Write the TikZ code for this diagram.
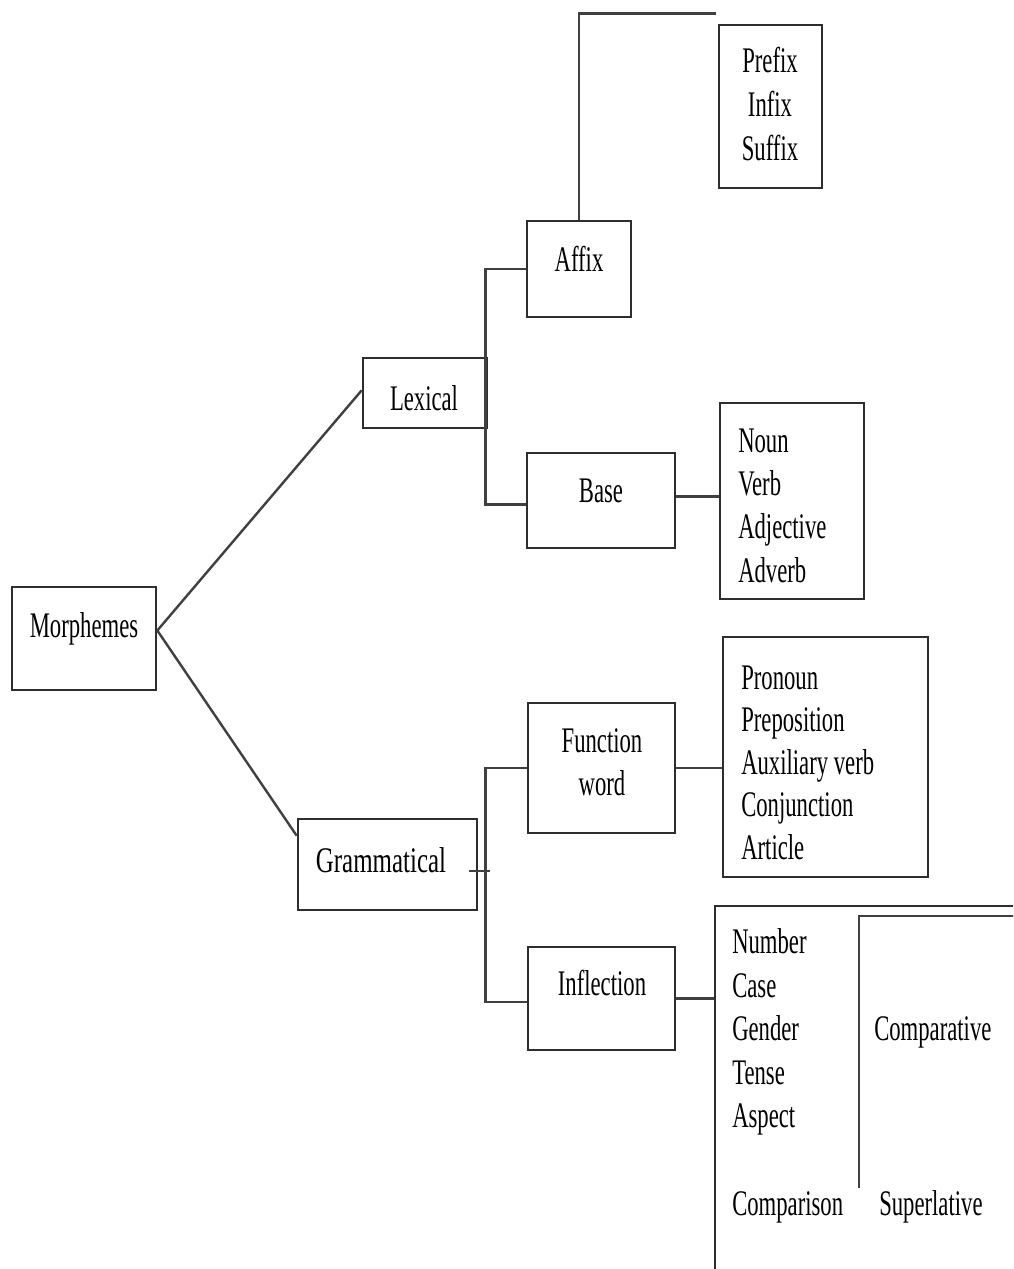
\documentclass[tikz,border=0pt]{standalone}
\usepackage{fontspec}
\usepackage{graphicx}
\setmainfont{Liberation Serif}[FakeStretch=0.63]
\usetikzlibrary{fit,calc}
\tikzset{
  box/.style={draw=black!82, line width=2pt, inner sep=0pt},
  conn/.style={draw=black!75, line width=1.8pt},
  lbl/.style={font=\fontsize{27pt}{33pt}\selectfont, inner sep=0pt, text=black, anchor=base},
  lbll/.style={lbl, anchor=base west}
}
\begin{document}
\begin{tikzpicture}[x=0.75pt,y=-0.75pt]
\useasboundingbox (0,0) rectangle (1013,1269);
\clip (0,0) rectangle (1013,1269);
\fill[white] (0,0) rectangle (1013,1269);

% boxes
\node[box, fit={(12,587) (156,690)}] (morph) {};
\node[box, fit={(363,358) (487,428)}] (lex) {};
\node[box, fit={(298,819) (477,910)}] (gram) {};
\node[box, fit={(527,221) (631,317)}] (aff) {};
\node[box, fit={(527,453) (675,548)}] (base) {};
\node[box, fit={(528,703) (675,833)}] (fw) {};
\node[box, fit={(528,947) (675,1050)}] (infl) {};
\node[box, fit={(719,25) (822,188)}] (pre) {};
\node[box, fit={(720,403) (864,599)}] (noun) {};
\node[box, fit={(723,637) (928,877)}] (pron) {};
\node[box, fit={(715,906) (1040,1300)}] (cmp) {};

% box labels
\node[lbl] (tmorph) at (84,637) {Morphemes};
\node[lbl] (tlex) at (424,410) {Lexical};
\node[lbl] (tgram) at (381,872) {\scalebox{1.1}[1]{Grammatical}};
\node[lbl] (taff) at (579,272) {Affix};
\node[lbl] (tbase) at (601,502) {Base};
\node[lbl] (tfw1) at (602,752) {Function};
\node[lbl] (tfw2) at (602,795) {word};
\node[lbl] (tinfl) at (602,995) {Inflection};

% lists
\node[lbl] (p1) at (770,73) {Prefix};
\node[lbl] (p2) at (770,117) {Infix};
\node[lbl] (p3) at (770,161) {Suffix};

\node[lbll] (n1) at (738,452) {Noun};
\node[lbll] (n2) at (738,495) {Verb};
\node[lbll] (n3) at (738,538) {Adjective};
\node[lbll] (n4) at (738,582) {Adverb};

\node[lbll] (f1) at (741,689) {Pronoun};
\node[lbll] (f2) at (741,731) {Preposition};
\node[lbll] (f3) at (741,774) {Auxiliary verb};
\node[lbll] (f4) at (741,816) {Conjunction};
\node[lbll] (f5) at (741,859) {Article};

\node[lbll] (i1) at (732,953) {Number};
\node[lbll] (i2) at (732,997) {Case};
\node[lbll] (i3) at (732,1040) {Gender};
\node[lbll] (i4) at (732,1084) {Tense};
\node[lbll] (i5) at (732,1127) {Aspect};
\node[lbll] (i6) at (732,1215) {Comparison};
\node[lbll] (c1) at (874,1040) {Comparative};
\node[lbll] (c2) at (879,1215) {Superlative};

% connectors
\coordinate (mroot) at ([yshift=6pt]morph.east);
\draw[conn] (mroot) -- ([yshift=2pt]lex.west);
\draw[conn] (mroot) -- ([yshift=-13.5pt]gram.north west);

\draw[conn] (aff.west) -- ++(-40,0) |- ([yshift=-3pt]base.west);
\draw[conn] (aff.north) -- ++(0,-206) -- ++(137,0);
\draw[conn] ([yshift=3pt]base.east) -- ([yshift=3pt]base.east -| noun.west);

\draw[conn] ([xshift=-6.75pt,yshift=-5pt]gram.east) -- ++(21,0);
\draw[conn] (fw.west) -- ++(-41,0) |- ([yshift=-2.5pt]infl.west);
\draw[conn] (fw.east) -- (fw.east -| pron.west);
\draw[conn] (infl.east) -- (infl.east -| cmp.west);

\coordinate (cmpin) at (859,1188);
\draw[conn] (cmpin) -- (859,916) -- (1040,916);
\end{tikzpicture}
\end{document}
